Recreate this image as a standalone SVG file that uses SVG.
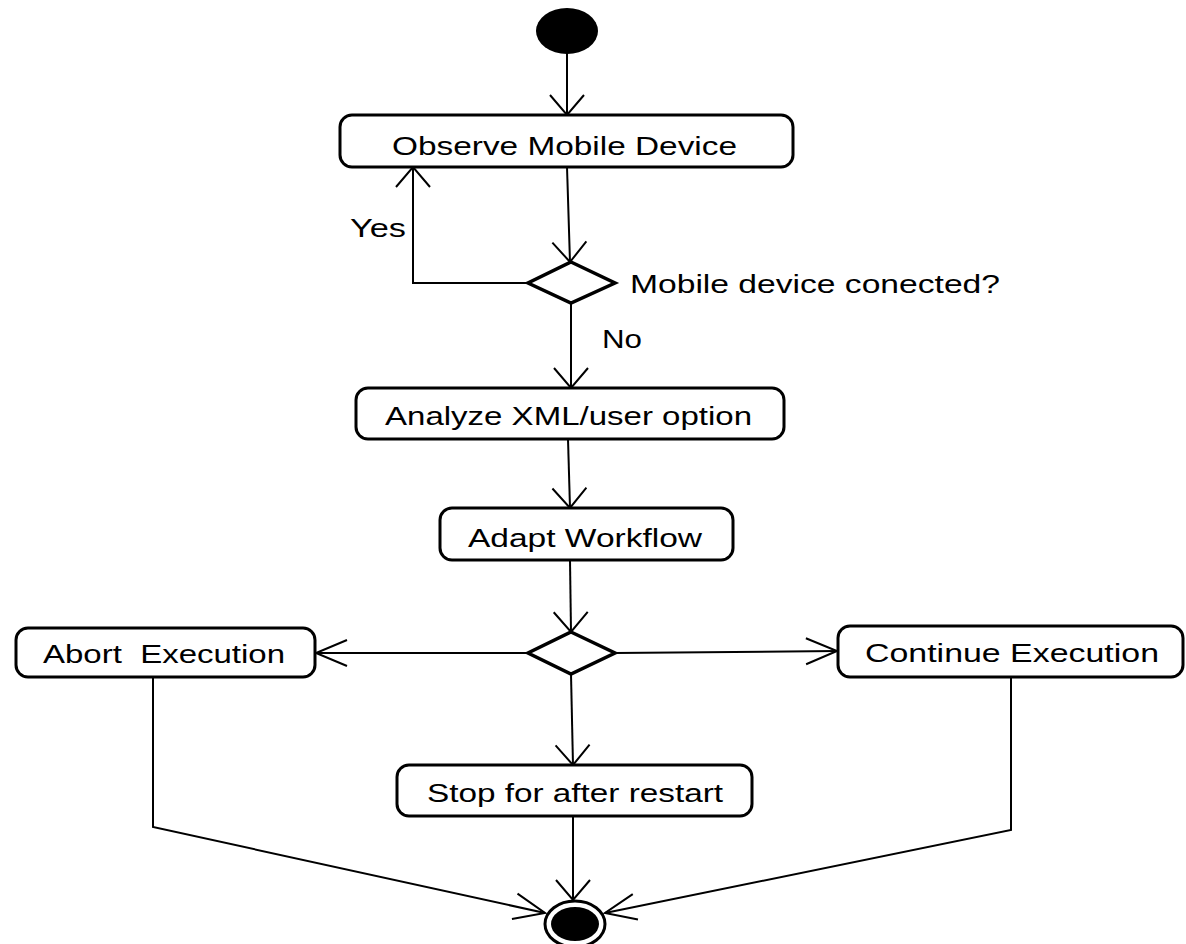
<svg xmlns="http://www.w3.org/2000/svg" width="1186" height="944" viewBox="0 0 1186 944">
<style>
.box{fill:#fff;stroke:#000;stroke-width:3}
.dia{fill:#fff;stroke:#000;stroke-width:3.5;stroke-linejoin:miter}
.c{fill:none;stroke:#000;stroke-width:2}
.t{font-family:"Liberation Sans",Arial,sans-serif;font-size:26px;fill:#000}
</style>
<defs>
<marker id="av" markerUnits="userSpaceOnUse" viewBox="-22 -19 24 38" refX="0" refY="0" markerWidth="24" markerHeight="38" orient="auto">
<path d="M-20,-17 L0,0 L-20,17" fill="none" stroke="#000" stroke-width="2"/>
</marker>
<marker id="ah" markerUnits="userSpaceOnUse" viewBox="-33 -15 35 30" refX="0" refY="0" markerWidth="35" markerHeight="30" orient="auto">
<path d="M-31,-13 L0,0 L-31,13" fill="none" stroke="#000" stroke-width="2"/>
</marker>
</defs>
<rect width="1186" height="944" fill="#fff"/>
<g id="connectors">
<line class="c" x1="567" y1="53" x2="567" y2="115" marker-end="url(#av)"/>
<line class="c" x1="567" y1="167" x2="570" y2="262" marker-end="url(#av)"/>
<polyline class="c" points="528,283 413,283 413,167" marker-end="url(#av)"/>
<line class="c" x1="571" y1="303" x2="571" y2="388" marker-end="url(#av)"/>
<line class="c" x1="568" y1="439" x2="570" y2="508" marker-end="url(#av)"/>
<line class="c" x1="570" y1="560" x2="571" y2="632" marker-end="url(#av)"/>
<line class="c" x1="528" y1="653" x2="316" y2="653" marker-end="url(#ah)"/>
<line class="c" x1="615" y1="653" x2="837" y2="651" marker-end="url(#ah)"/>
<line class="c" x1="571" y1="674" x2="573" y2="765" marker-end="url(#av)"/>
<line class="c" x1="573" y1="816" x2="573" y2="900" marker-end="url(#av)"/>
<polyline class="c" points="153,677 153,827 545,913" marker-end="url(#ah)"/>
<polyline class="c" points="1011,677 1011,830 605,913" marker-end="url(#ah)"/>
<text class="t" x="350" y="237" textLength="56" lengthAdjust="spacingAndGlyphs">Yes</text>
<text class="t" x="602" y="348" textLength="40" lengthAdjust="spacingAndGlyphs">No</text>
</g>
<g id="start">
<ellipse cx="567" cy="31" rx="31" ry="23" fill="#000"/>
</g>
<g id="observe">
<rect class="box" x="340" y="115" width="453" height="52" rx="12"/>
<text class="t" x="392" y="155" textLength="345" lengthAdjust="spacingAndGlyphs">Observe Mobile Device</text>
</g>
<g id="decision1">
<polygon class="dia" points="571,262 615,283 571,303 528,283"/>
<text class="t" x="630" y="293" textLength="370" lengthAdjust="spacingAndGlyphs">Mobile device conected?</text>
</g>
<g id="analyze">
<rect class="box" x="356" y="388" width="428" height="51" rx="12"/>
<text class="t" x="385" y="425" textLength="367" lengthAdjust="spacingAndGlyphs">Analyze XML/user option</text>
</g>
<g id="adapt">
<rect class="box" x="440" y="508" width="293" height="52" rx="12"/>
<text class="t" x="468" y="547" textLength="234" lengthAdjust="spacingAndGlyphs">Adapt Workflow</text>
</g>
<g id="decision2">
<polygon class="dia" points="571,632 615,653 571,674 528,653"/>
</g>
<g id="abort">
<rect class="box" x="16" y="628" width="299" height="49" rx="12"/>
<text class="t" x="43" y="663" textLength="242" lengthAdjust="spacingAndGlyphs" xml:space="preserve">Abort  Execution</text>
</g>
<g id="continue">
<rect class="box" x="838" y="626" width="345" height="51" rx="12"/>
<text class="t" x="865" y="662" textLength="294" lengthAdjust="spacingAndGlyphs">Continue Execution</text>
</g>
<g id="stop">
<rect class="box" x="397" y="765" width="355" height="51" rx="12"/>
<text class="t" x="427" y="802" textLength="296" lengthAdjust="spacingAndGlyphs">Stop for after restart</text>
</g>
<g id="end">
<ellipse cx="575" cy="924" rx="30" ry="23" fill="#fff" stroke="#000" stroke-width="3"/>
<ellipse cx="575" cy="924" rx="24" ry="17" fill="#000"/>
</g>
</svg>
